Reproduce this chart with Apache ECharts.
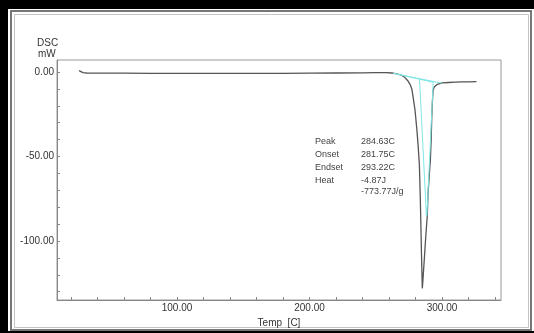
<!DOCTYPE html>
<html>
<head>
<meta charset="utf-8">
<script src="https://cdn.jsdelivr.net/npm/echarts@6/dist/echarts.min.js"></script>
<style>
  html, body { margin: 0; padding: 0; background: #fff; }
  #chart { width: 534px; height: 333px; }
</style>
</head>
<body>
<div id="chart"></div>
<script>
// DSC curve (Temp in C, heat flow in mW)
const tempC = [26, 27, 29, 32, 40, 60, 80, 100, 120, 140, 160, 180, 200, 220, 240, 250, 258, 262, 265, 268, 270, 272, 274, 276, 277.2, 278.2, 279.6, 281, 282, 282.9, 283.6, 284.2, 284.7, 285.1,
    285.5, 286, 286.6, 287.5, 288.3, 288.9, 289.4, 290.3, 291.2, 291.8, 292.2, 292.7, 293.2, 294, 295, 296, 297.5, 300, 305, 310, 315, 320, 326];
const dscMw = [0.8, 0.2, -0.4, -0.6, -0.7, -0.7, -0.8, -0.8, -0.8, -0.8, -0.8, -0.8, -0.7, -0.6, -0.5, -0.4, -0.4, -0.6, -0.9, -1.5, -2.2, -3.3, -5, -7.5, -10, -15, -22.5, -34, -44, -55, -75, -97, -115, -128,
    -124, -118, -111, -100, -91, -84.6, -72, -62, -52, -40, -28, -18, -11, -9, -8, -7.5, -6.8, -6.4, -6.2, -6.0, -5.9, -5.8, -5.7];

// analysis lines (cyan)
const baseT = [263, 299.8];
const baseV = [-0.8, -6.6];
const base2T = [264, 294];
const base2V = [-0.9, -6.2];
const leftT = [283.0, 288.2];
const leftV = [-3.8, -85];
const rightT = [293.3, 288.6];
const rightV = [-6.7, -85];

// axes
const xLabels = [100, 200, 300];
const xTicks = [20, 40, 60, 80, 100, 120, 140, 160, 180, 200, 220, 240, 260, 280, 300, 320, 340];
const yLabels = [0, -50, -100];
const yTicks = [-130, -120, -110, -100, -90, -80, -70, -60, -50, -40, -30, -20, -10, 0];

// results box
const resNames = ['Peak', 'Onset', 'Endset', 'Heat', ''];
const resValues = ['284.63C', '281.75C', '293.22C', '-4.87J', '-773.77J/g'];

const zip = (a, b) => a.map((v, i) => [v, b[i]]);
const FONT = 'Liberation Sans, Arial, sans-serif';
const CYAN = '#7fe6e6';

const frame = [
    {type: 'rect', shape: {x: 0, y: 0, width: 534, height: 9}, style: {fill: '#000'}},
    {type: 'rect', shape: {x: 0, y: 0, width: 8, height: 333}, style: {fill: '#000'}},
    {type: 'rect', shape: {x: 0, y: 331, width: 534, height: 2}, style: {fill: '#000'}},
    {type: 'rect', shape: {x: 11, y: 11, width: 520, height: 319}, style: {fill: 'none', stroke: '#777', lineWidth: 2}},
    {type: 'rect', shape: {x: 14.5, y: 14.5, width: 514, height: 313}, style: {fill: 'none', stroke: '#c4c4c4', lineWidth: 1}},
    {type: 'text', left: 37, top: 38, style: {text: 'DSC', font: '10px ' + FONT, fill: '#333'}},
    {type: 'text', left: 38, top: 49, style: {text: 'mW', font: '10px ' + FONT, fill: '#333'}}
];
resNames.forEach((n, i) => {
    frame.push({type: 'text', left: 315, top: 137 + i * 13, style: {text: n, font: '9px ' + FONT, fill: '#444'}});
    frame.push({type: 'text', left: 361, top: 137 + i * 13 - (i === 4 ? 1.5 : 0), style: {text: resValues[i], font: '9px ' + FONT, fill: '#444'}});
});

const cyanLine = (t, v) => ({
    type: 'line',
    data: zip(t, v),
    showSymbol: false,
    silent: true,
    z: 3,
    lineStyle: {color: CYAN, width: 1}
});

const option = {
    animation: false,
    backgroundColor: '#fff',
    grid: {
        left: 57, right: 33, top: 60, bottom: 33,
        show: true, borderColor: '#999', borderWidth: 1
    },
    xAxis: {
        type: 'value',
        min: 9.4,
        max: 344.5,
        name: 'Temp  [C]',
        nameLocation: 'middle',
        nameGap: 10,
        nameTextStyle: {fontFamily: FONT, fontSize: 10, color: '#333'},
        axisLine: {onZero: false, lineStyle: {color: '#888'}},
        axisTick: {inside: true, length: 3, customValues: xTicks, lineStyle: {color: '#888'}},
        axisLabel: {customValues: xLabels, formatter: v => v.toFixed(2), margin: 3,
            fontFamily: FONT, fontSize: 10, color: '#333'},
        splitLine: {show: false}
    },
    yAxis: {
        type: 'value',
        min: -134.9,
        max: 7.1,
        axisLine: {show: true, onZero: false, lineStyle: {color: '#888'}},
        axisTick: {show: true, inside: true, length: 3, customValues: yTicks, lineStyle: {color: '#888'}},
        axisLabel: {customValues: yLabels, formatter: v => v.toFixed(2), margin: 3,
            fontFamily: FONT, fontSize: 10, color: '#333'},
        splitLine: {show: false}
    },
    graphic: frame,
    series: [
        {
            type: 'line',
            data: zip(tempC, dscMw),
            showSymbol: false,
            silent: true,
            z: 2,
            lineStyle: {color: '#555', width: 1.3}
        },
        cyanLine(baseT, baseV),
        cyanLine(base2T, base2V),
        cyanLine(leftT, leftV),
        cyanLine(rightT, rightV)
    ]
};

const chart = echarts.init(document.getElementById('chart'));
chart.setOption(option);
</script>
</body>
</html>
